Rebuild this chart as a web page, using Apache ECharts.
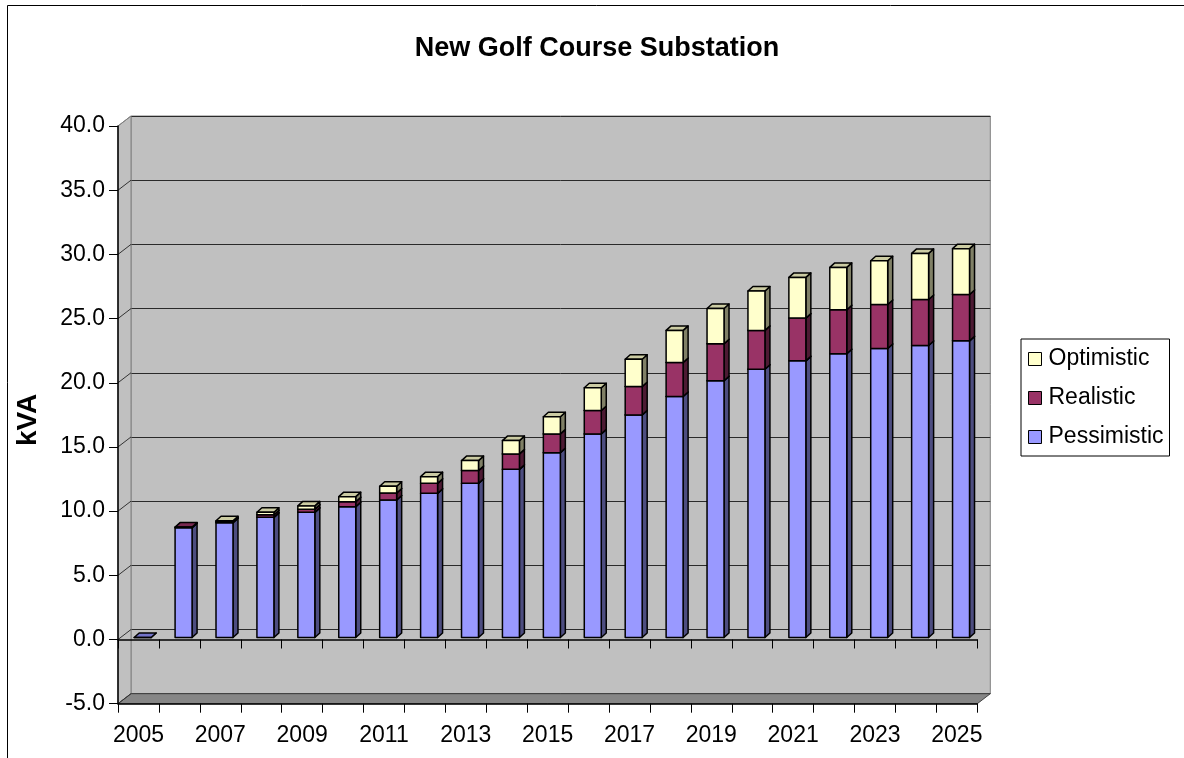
<!DOCTYPE html>
<html>
<head>
<meta charset="utf-8">
<title>New Golf Course Substation</title>
<script src="https://cdn.jsdelivr.net/npm/echarts@6.0.0/dist/echarts.min.js"></script>
<style>
  html, body { margin: 0; padding: 0; background: #ffffff; }
  #chart { width: 1184px; height: 758px; }
</style>
</head>
<body>
<div id="chart"></div>
<script>
// Load forecast (kVA) per year; each scenario is stacked on the one below it.
const years = ['2005', '2006', '2007', '2008', '2009', '2010', '2011', '2012', '2013', '2014', '2015',
               '2016', '2017', '2018', '2019', '2020', '2021', '2022', '2023', '2024', '2025'];
const pessimistic = [0, 8.55, 8.94, 9.36, 9.75, 10.19, 10.71, 11.23, 12.01, 13.10, 14.40,
                     15.86, 17.34, 18.77, 20.00, 20.90, 21.55, 22.10, 22.51, 22.75, 23.11];
const realistic   = [null, 0.05, 0.08, 0.20, 0.25, 0.39, 0.55, 0.78, 0.99, 1.20, 1.46,
                     1.82, 2.21, 2.65, 2.88, 3.02, 3.33, 3.43, 3.43, 3.58, 3.61];
const optimistic  = [null, null, 0.08, 0.20, 0.25, 0.39, 0.52, 0.52, 0.78, 1.04, 1.34,
                     1.77, 2.13, 2.50, 2.75, 3.07, 3.17, 3.30, 3.41, 3.59, 3.57];
const yTicks = [-5, 0, 5, 10, 15, 20, 25, 30, 35, 40];

const Y_MIN = yTicks[0];
const Y_MAX = yTicks[yTicks.length - 1];
const Y_STEP = yTicks[1] - yTicks[0];

const FONT = "'Liberation Sans', Arial, sans-serif";

// Front plane of the plot box and the 3-D depth of the walls.
const FRONT = { left: 118, top: 126, right: 206.7, bottom: 54.3 };
const WALL_DX = 13, WALL_DY = -10;

// Column geometry (relative to the category band).
const BAR_WIDTH_RATIO = 0.415;
const BAR_SHIFT_X = 4.2, BAR_SHIFT_Y = -2;
const BAR_DX = 5, BAR_DY = -4.5;

const scenarios = [
  { name: 'Pessimistic', values: pessimistic, front: '#9999FF', side: '#4D4D80', top: '#7373C8' },
  { name: 'Realistic',   values: realistic,   front: '#993366', side: '#4D1A33', top: '#772850' },
  { name: 'Optimistic',  values: optimistic,  front: '#FFFFCC', side: '#808066', top: '#CCCCA3' }
];

// Stack the scenarios: each item is [categoryIndex, base, top].
const running = years.map(() => 0);
scenarios.forEach(s => {
  s.data = [];
  s.values.forEach((v, i) => {
    if (v == null) return;
    s.data.push([i, running[i], running[i] + v]);
    running[i] += v;
  });
});

function columnRenderer(s) {
  return function (params, api) {
    const i = api.value(0);
    const p0 = api.coord([i, api.value(1)]);
    const p1 = api.coord([i, api.value(2)]);
    const bw = api.size([1, 0])[0];
    const w = bw * BAR_WIDTH_RATIO;
    const x0 = p0[0] + BAR_SHIFT_X - w / 2;
    const x1 = x0 + w;
    const yb = p0[1] + BAR_SHIFT_Y;
    const yt = p1[1] + BAR_SHIFT_Y;
    const edge = { stroke: '#000', lineWidth: 1.5, lineJoin: 'round' };
    return {
      type: 'group',
      children: [
        { type: 'polygon', shape: { points: [[x1, yt], [x1 + BAR_DX, yt + BAR_DY], [x1 + BAR_DX, yb + BAR_DY], [x1, yb]] },
          style: Object.assign({ fill: s.side }, edge) },
        { type: 'polygon', shape: { points: [[x0, yt], [x0 + BAR_DX, yt + BAR_DY], [x1 + BAR_DX, yt + BAR_DY], [x1, yt]] },
          style: Object.assign({ fill: s.top }, edge) },
        { type: 'polygon', shape: { points: [[x0, yt], [x1, yt], [x1, yb], [x0, yb]] },
          style: Object.assign({ fill: s.front }, edge) }
      ]
    };
  };
}

// Side wall and floor joining the front axes to the back wall.
function renderWalls(params, api) {
  const cs = params.coordSys;
  const left = cs.x, right = cs.x + cs.width;
  const yTop = api.coord([0, Y_MAX])[1];
  const yBot = api.coord([0, Y_MIN])[1];
  const children = [
    { type: 'polygon',
      shape: { points: [[left, yTop], [left + WALL_DX, yTop + WALL_DY], [left + WALL_DX, yBot + WALL_DY], [left, yBot]] },
      style: { fill: '#C0C0C0', stroke: '#808080', lineWidth: 1 } },
    { type: 'polygon',
      shape: { points: [[left, yBot], [left + WALL_DX, yBot + WALL_DY], [right + WALL_DX, yBot + WALL_DY], [right, yBot]] },
      style: { fill: '#868686', stroke: '#444', lineWidth: 1 } }
  ];
  yTicks.forEach(v => {
    const y = api.coord([0, v])[1];
    children.push({ type: 'line',
      shape: { x1: left, y1: y, x2: left + WALL_DX, y2: y + WALL_DY },
      style: { stroke: (v === Y_MAX) ? '#808080' : '#333', lineWidth: 1 } });
  });
  return { type: 'group', children };
}

const chart = echarts.init(document.getElementById('chart'), null, { renderer: 'canvas' });

const option = {
  animation: false,
  backgroundColor: '#ffffff',
  textStyle: { fontFamily: FONT },
  title: {
    text: 'New Golf Course Substation',
    left: 597, top: 35, textAlign: 'center', padding: 0,
    textStyle: { fontSize: 27, fontWeight: 'bold', color: '#000', fontFamily: FONT }
  },
  legend: {
    orient: 'vertical',
    left: 1021, top: 339,
    data: ['Optimistic', 'Realistic', 'Pessimistic'],
    backgroundColor: '#ffffff',
    borderColor: '#000', borderWidth: 1, borderRadius: 0,
    padding: [8, 6, 7, 7],
    icon: 'rect', itemWidth: 13, itemHeight: 13, itemGap: 15,
    itemStyle: { borderColor: '#000', borderWidth: 1 },
    selectedMode: false,
    textStyle: { fontSize: 23, color: '#000', fontFamily: FONT, lineHeight: 24, padding: [0, 0, 0, 2] }
  },
  graphic: [{
    type: 'rect', silent: true, z: 100,
    shape: { x: 7.5, y: 5.5, width: 1200, height: 800 },
    style: { fill: null, stroke: '#000', lineWidth: 1 }
  }],
  grid: [
    { // back wall
      left: FRONT.left + WALL_DX, top: FRONT.top + WALL_DY,
      right: FRONT.right - WALL_DX, bottom: FRONT.bottom - WALL_DY,
      show: true, backgroundColor: '#C0C0C0', borderColor: '#808080', borderWidth: 1
    },
    { // front plane
      left: FRONT.left, top: FRONT.top, right: FRONT.right, bottom: FRONT.bottom
    }
  ],
  xAxis: [
    { gridIndex: 0, type: 'category', data: years, show: false },
    { gridIndex: 1, type: 'category', data: years, position: 'bottom', z: 5,
      axisLine: { onZero: true, lineStyle: { color: '#000', width: 1.5 } },
      axisTick: { show: true, interval: 0, length: 9, lineStyle: { color: '#000' } },
      axisLabel: { show: false }, splitLine: { show: false } },
    { gridIndex: 1, type: 'category', data: years, position: 'bottom', z: 5,
      axisLine: { onZero: false, lineStyle: { color: '#000', width: 1.5 } },
      axisTick: { show: true, interval: 0, length: 9, lineStyle: { color: '#000' } },
      axisLabel: { interval: 1, fontSize: 23, color: '#000', fontFamily: FONT, margin: 20 },
      splitLine: { show: false } }
  ],
  yAxis: [
    { gridIndex: 0, type: 'value', min: Y_MIN, max: Y_MAX, interval: Y_STEP,
      axisLine: { show: false }, axisTick: { show: false }, axisLabel: { show: false },
      splitLine: { show: true, lineStyle: { color: '#2a2a2a', width: 1 } } },
    { gridIndex: 1, type: 'value', min: Y_MIN, max: Y_MAX, interval: Y_STEP, z: 5,
      name: 'kVA', nameLocation: 'middle', nameRotate: 90, nameGap: 76,
      nameTextStyle: { fontSize: 28, fontWeight: 'bold', color: '#000', fontFamily: FONT,
                       padding: [0, 10, 0, 0] },
      axisLine: { show: true, onZero: false, lineStyle: { color: '#000', width: 1.5 } },
      axisTick: { show: true, length: 9, lineStyle: { color: '#000' } },
      axisLabel: { fontSize: 23, color: '#000', fontFamily: FONT, margin: 13,
                   formatter: v => v.toFixed(1) },
      splitLine: { show: false } }
  ],
  series: [
    { type: 'custom', name: 'walls', xAxisIndex: 1, yAxisIndex: 1, z: 1, silent: true,
      renderItem: renderWalls, data: [[0, Y_MIN]] }
  ].concat(scenarios.map(s => ({
    type: 'custom',
    name: s.name,
    xAxisIndex: 1, yAxisIndex: 1, z: 2,
    itemStyle: { color: s.front, borderColor: '#000', borderWidth: 1 },
    encode: { x: 0, y: [1, 2] },
    renderItem: columnRenderer(s),
    data: s.data
  })))
};

chart.setOption(option);
</script>
</body>
</html>
